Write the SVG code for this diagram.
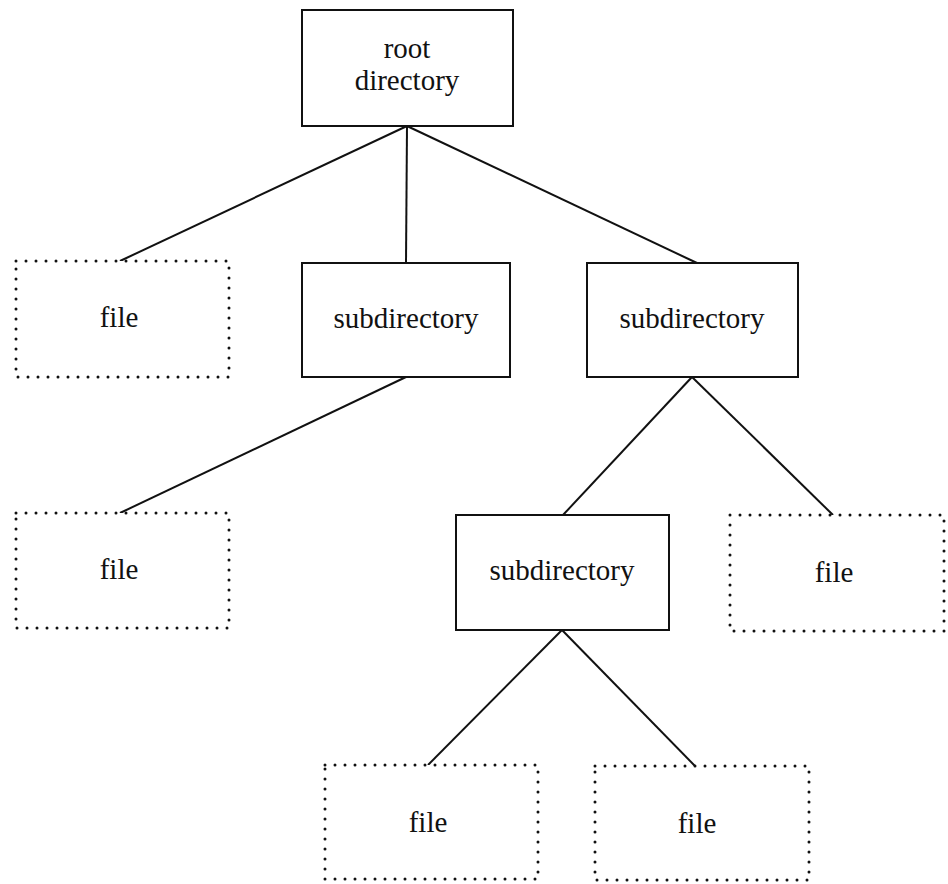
<svg xmlns="http://www.w3.org/2000/svg" width="948" height="884" viewBox="0 0 948 884">
<style>
.dir{fill:#fff;stroke:#111;stroke-width:2}
.file{fill:#fff;stroke:#111;stroke-width:3;stroke-dasharray:0 10;stroke-linecap:round}
.lbl{font-family:"Liberation Serif","Times New Roman",serif;font-size:29px;fill:#111;text-anchor:middle}
.edge{stroke:#111;stroke-width:2;fill:none}
</style>
<rect width="948" height="884" fill="#fff"/>
<g id="connectors">
<line class="edge" x1="407" y1="126" x2="120" y2="261"/>
<line class="edge" x1="407" y1="126" x2="406" y2="263"/>
<line class="edge" x1="407" y1="126" x2="697" y2="263"/>
<line class="edge" x1="406" y1="377" x2="120" y2="513"/>
<line class="edge" x1="692" y1="377" x2="563" y2="515"/>
<line class="edge" x1="692" y1="377" x2="833" y2="515"/>
<line class="edge" x1="562" y1="630" x2="428" y2="765"/>
<line class="edge" x1="562" y1="630" x2="695" y2="766"/>
</g>
<g id="root">
<rect class="dir" x="302" y="10" width="211" height="116"/>
<text class="lbl" x="407" y="58">root</text>
<text class="lbl" x="407" y="90">directory</text>
</g>
<g id="file1">
<rect class="file" x="16" y="261" width="213" height="116"/>
<text class="lbl" x="119" y="327">file</text>
</g>
<g id="subdir1">
<rect class="dir" x="302" y="263" width="208" height="114"/>
<text class="lbl" x="406" y="328">subdirectory</text>
</g>
<g id="subdir2">
<rect class="dir" x="587" y="263" width="211" height="114"/>
<text class="lbl" x="692" y="328">subdirectory</text>
</g>
<g id="file2">
<rect class="file" x="16" y="513" width="213" height="115"/>
<text class="lbl" x="119" y="579">file</text>
</g>
<g id="subdir3">
<rect class="dir" x="456" y="515" width="213" height="115"/>
<text class="lbl" x="562" y="580">subdirectory</text>
</g>
<g id="file3">
<rect class="file" x="730" y="515" width="214" height="116"/>
<text class="lbl" x="834" y="582">file</text>
</g>
<g id="file4">
<rect class="file" x="325" y="765" width="213" height="114"/>
<text class="lbl" x="428" y="832">file</text>
</g>
<g id="file5">
<rect class="file" x="595" y="766" width="214" height="114"/>
<text class="lbl" x="697" y="833">file</text>
</g>
</svg>
